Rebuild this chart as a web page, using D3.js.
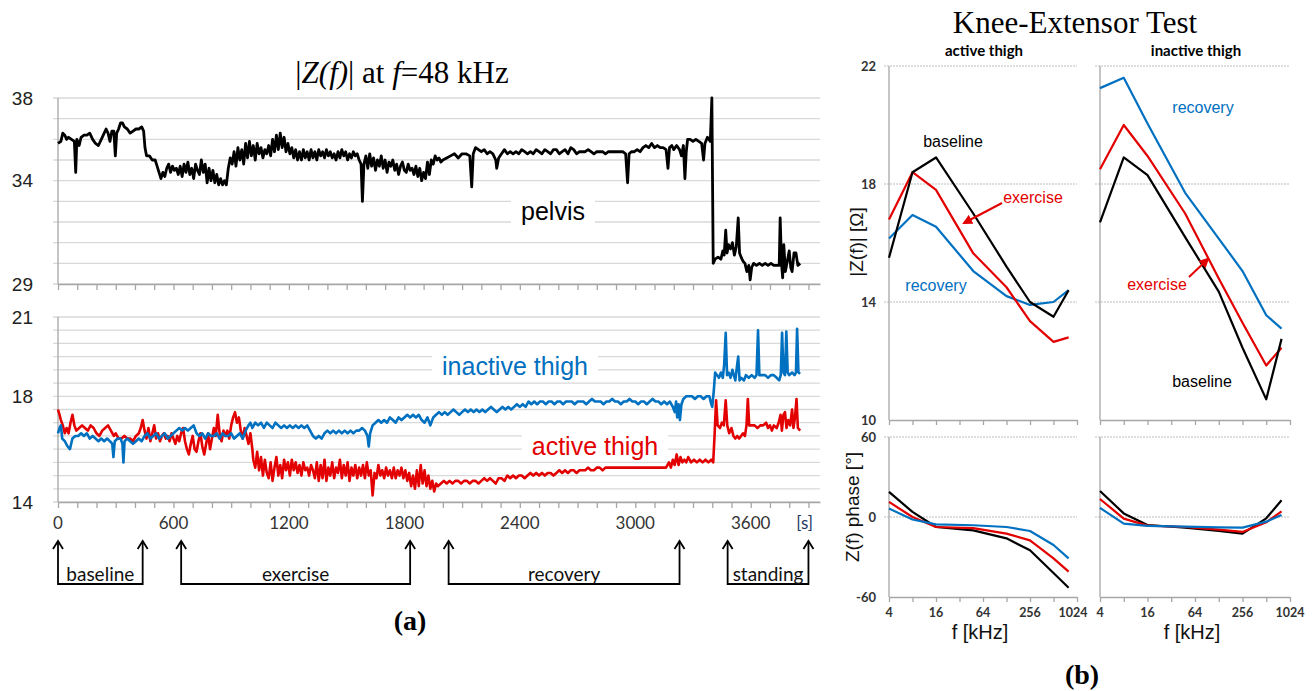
<!DOCTYPE html>
<html>
<head>
<meta charset="utf-8">
<script src="https://cdn.jsdelivr.net/npm/d3@7"></script>
<style>
  body { margin: 0; background: #fff; }
</style>
</head>
<body>
<svg id="fig" width="1316" height="691" font-family="'Liberation Sans', Arial, sans-serif"></svg>
<script>
////////////////////////////////////////////////////////////
//// Data //////////////////////////////////////////////////
////////////////////////////////////////////////////////////
// (a) |Z| at 48 kHz over time, [seconds, ohm]
const pelvis = [
  [0,35.8],[15,35.9],[25,36.3],[35,36.2],[45,36.0],[55,36.1],[70,36.0],[85,35.9],[92,34.4],[98,36.0],
  [110,35.7],[120,36.1],[135,36.2],[150,36.2],[165,36.3],[180,36.0],[195,35.8],[210,35.7],[225,36.0],[240,36.3],
  [250,36.5],[260,36.3],[270,35.9],[280,36.4],[290,36.4],[298,35.2],[305,36.3],[315,36.5],[325,36.8],[335,36.8],
  [345,36.6],[360,36.5],[375,36.3],[390,36.4],[405,36.5],[420,36.5],[435,36.6],[445,36.4],[452,35.6],[460,35.2],
  [475,35.2],[490,35.0],[505,35.0],[515,34.7],[525,34.4],[535,34.1],[545,34.4],[555,34.2],[565,34.6],[575,34.8],
  [585,34.4],[595,34.7],[605,34.5],[615,34.6],[625,34.3],[635,34.7],[645,34.2],[655,34.8],[665,34.4],[675,34.9],
  [685,34.3],[695,34.6],[705,34.1],[715,34.8],[725,34.5],[735,34.3],[745,35.0],[755,34.4],[765,34.8],[775,33.9],
  [785,34.6],[795,34.0],[805,34.5],[815,33.9],[825,34.3],[835,33.8],[845,34.1],[855,33.8],[865,34.0],[875,33.8],
  [885,34.6],[895,35.1],[905,34.8],[915,35.4],[925,34.7],[935,35.6],[945,35.0],[955,35.5],[965,34.8],[975,35.8],
  [985,35.1],[995,35.9],[1005,35.2],[1015,35.7],[1025,35.0],[1035,35.8],[1045,35.3],[1055,35.6],[1065,35.1],[1075,35.5],
  [1085,35.3],[1095,35.7],[1105,35.2],[1115,36.0],[1125,35.4],[1135,36.2],[1145,35.5],[1155,36.3],[1165,35.6],[1175,36.1],
  [1185,35.4],[1195,35.8],[1205,35.3],[1215,35.6],[1225,35.1],[1235,35.5],[1245,35.0],[1255,35.4],[1265,35.0],[1275,35.5],
  [1285,35.1],[1295,35.4],[1305,35.0],[1315,35.5],[1325,35.1],[1335,35.4],[1345,35.0],[1355,35.5],[1365,35.2],[1375,35.4],
  [1385,35.1],[1395,35.5],[1405,35.2],[1415,35.4],[1425,35.1],[1435,35.3],[1445,35.0],[1455,35.4],[1465,35.1],[1475,35.5],
  [1485,35.2],[1495,35.4],[1505,35.0],[1515,35.3],[1525,35.1],[1535,35.4],[1545,35.2],[1555,35.3],[1565,35.0],[1575,34.8],
  [1582,33.0],[1590,34.8],[1600,35.2],[1610,34.6],[1620,35.3],[1630,34.7],[1640,35.1],[1650,34.5],[1660,35.0],[1670,34.7],
  [1680,35.2],[1690,34.6],[1700,35.0],[1710,34.4],[1720,34.9],[1730,34.7],[1740,35.0],[1750,34.5],[1760,34.8],[1770,34.3],
  [1780,34.7],[1790,34.9],[1800,34.5],[1810,34.4],[1820,34.8],[1830,34.5],[1840,34.6],[1850,34.3],[1860,34.7],[1870,34.2],
  [1880,34.6],[1890,34.0],[1900,34.4],[1910,34.1],[1920,34.9],[1930,34.3],[1940,35.0],[1950,34.8],[1960,35.2],[1970,35.0],
  [1980,35.1],[1990,34.9],[2000,35.0],[2020,35.1],[2040,35.2],[2060,35.3],[2080,35.1],[2100,35.3],[2120,35.3],[2140,35.2],
  [2150,33.7],[2158,35.3],[2170,35.6],[2185,35.5],[2200,35.4],[2215,35.5],[2230,35.3],[2245,35.4],[2260,35.3],[2275,35.0],
  [2280,34.6],[2290,35.1],[2305,35.3],[2320,35.5],[2335,35.3],[2350,35.4],[2365,35.3],[2380,35.4],[2395,35.3],[2410,35.5],
  [2425,35.4],[2440,35.3],[2455,35.4],[2470,35.3],[2485,35.5],[2500,35.4],[2515,35.3],[2530,35.5],[2545,35.4],[2560,35.3],
  [2575,35.5],[2590,35.5],[2605,35.3],[2620,35.4],[2635,35.5],[2650,35.3],[2665,35.6],[2680,35.5],[2695,35.3],[2710,35.4],
  [2725,35.4],[2740,35.4],[2755,35.5],[2770,35.4],[2785,35.3],[2800,35.4],[2815,35.4],[2830,35.4],[2845,35.3],[2860,35.4],
  [2875,35.4],[2890,35.4],[2905,35.4],[2920,35.4],[2935,35.4],[2950,35.3],[2960,33.9],[2968,35.3],[2980,35.4],[2995,35.4],
  [3010,35.5],[3025,35.4],[3040,35.6],[3055,35.7],[3070,35.6],[3085,35.8],[3100,35.6],[3115,35.7],[3130,35.6],[3145,35.6],
  [3160,35.5],[3170,34.6],[3178,35.6],[3190,35.7],[3200,35.5],[3215,35.7],[3230,35.5],[3240,35.2],[3250,35.7],[3258,34.1],
  [3265,35.4],[3272,36.0],[3285,36.0],[3300,35.9],[3315,36.0],[3330,35.9],[3345,35.8],[3355,35.0],[3362,35.8],[3375,36.1],
  [3390,35.9],[3398,38.0],[3405,30.0],[3415,30.2],[3430,30.3],[3445,30.2],[3455,30.6],[3462,30.4],[3470,31.6],[3477,30.5],
  [3485,30.9],[3495,30.7],[3505,31.0],[3515,30.4],[3525,30.8],[3535,32.2],[3542,30.5],[3550,30.3],[3560,30.1],[3570,30.0],
  [3580,29.6],[3590,29.9],[3597,29.2],[3605,29.8],[3615,30.0],[3630,29.9],[3645,30.0],[3660,29.9],[3675,30.0],[3690,29.9],
  [3705,30.0],[3720,29.9],[3735,29.9],[3748,29.9],[3753,32.2],[3760,30.0],[3766,29.3],[3772,30.9],[3780,29.6],[3790,30.1],
  [3800,30.6],[3808,29.8],[3815,29.6],[3825,30.5],[3835,30.5],[3845,29.9],[3857,30.0]
];

const activeThigh = [
  [0,17.5],[8,17.3],[15,17.1],[25,16.9],[35,16.6],[45,16.8],[55,16.6],[65,17.0],[75,17.3],[85,16.9],
  [95,16.7],[110,16.8],[125,16.9],[140,16.8],[155,16.7],[170,16.9],[185,16.8],[200,16.6],[215,16.5],[230,16.7],
  [245,16.8],[260,16.9],[275,16.7],[290,16.5],[300,16.6],[315,16.4],[330,16.4],[345,16.5],[360,16.4],[375,16.4],
  [390,16.3],[405,16.5],[420,16.6],[430,16.8],[440,17.1],[450,16.7],[460,16.4],[470,16.8],[480,16.3],[490,16.6],
  [500,16.9],[510,16.4],[520,16.6],[530,16.3],[540,16.5],[550,16.6],[560,16.4],[570,16.5],[580,16.3],[590,16.6],
  [600,16.4],[610,16.2],[620,16.5],[630,16.3],[640,16.6],[650,16.8],[660,16.3],[670,16.0],[680,15.8],[690,16.2],
  [700,16.5],[710,16.0],[720,15.9],[730,16.3],[740,16.6],[750,16.1],[760,15.8],[770,16.2],[780,16.6],[790,16.0],
  [800,16.4],[810,16.8],[820,16.5],[830,17.3],[840,16.6],[850,16.3],[860,16.7],[870,16.5],[880,16.7],[890,16.4],
  [900,16.9],[910,17.2],[920,17.4],[930,17.0],[940,17.2],[950,16.7],[960,16.4],[970,16.8],[980,16.5],[990,16.2],
  [1000,16.6],[1010,16.0],[1015,15.6],[1025,15.3],[1035,15.9],[1045,15.2],[1055,15.7],[1065,15.0],[1075,15.6],[1085,15.1],
  [1095,14.9],[1105,15.5],[1115,14.8],[1125,15.3],[1135,15.7],[1145,15.0],[1155,15.4],[1165,14.9],[1175,15.6],[1185,15.2],
  [1195,15.5],[1205,15.0],[1215,15.6],[1225,15.2],[1235,15.5],[1245,15.1],[1255,15.4],[1265,15.0],[1275,15.5],[1285,15.2],
  [1295,15.3],[1305,15.0],[1315,15.4],[1325,15.2],[1335,14.9],[1345,15.5],[1355,14.8],[1365,15.4],[1375,14.9],[1385,15.6],
  [1395,14.8],[1405,15.3],[1415,15.0],[1425,15.5],[1435,14.9],[1445,15.3],[1455,15.1],[1465,15.6],[1475,14.9],[1485,15.4],
  [1495,15.0],[1505,15.5],[1515,14.8],[1525,15.3],[1535,15.0],[1545,15.4],[1555,14.9],[1565,15.3],[1575,15.0],[1585,15.4],
  [1595,14.9],[1605,15.5],[1615,15.0],[1625,15.2],[1635,14.25],[1645,15.1],[1655,14.9],[1665,15.4],[1675,15.0],[1685,15.2],
  [1695,14.9],[1705,15.3],[1715,15.0],[1725,15.2],[1735,14.9],[1745,15.3],[1755,14.9],[1765,15.2],[1775,15.0],[1785,15.3],
  [1795,14.9],[1805,15.2],[1815,14.8],[1825,15.1],[1835,14.6],[1845,15.0],[1855,14.5],[1865,15.2],[1875,14.6],[1885,15.4],
  [1895,14.7],[1905,15.2],[1915,14.6],[1925,15.0],[1935,14.5],[1945,14.8],[1955,14.4],[1965,14.7],[1975,14.6],[1990,14.7],
  [2005,14.8],[2020,14.7],[2035,14.8],[2050,14.7],[2065,14.8],[2080,14.8],[2095,14.7],[2110,14.8],[2125,14.8],[2140,14.7],
  [2155,14.8],[2170,14.8],[2185,14.7],[2200,14.8],[2215,14.9],[2230,14.8],[2245,14.9],[2260,14.8],[2275,14.7],[2290,14.9],
  [2305,14.9],[2320,14.8],[2335,15.0],[2350,14.9],[2365,15.0],[2380,14.9],[2395,15.0],[2410,15.0],[2425,14.9],[2440,15.0],
  [2455,15.1],[2470,15.0],[2485,15.1],[2500,15.0],[2515,15.1],[2530,15.0],[2545,15.1],[2560,15.1],[2575,15.0],[2590,15.1],
  [2605,15.2],[2620,15.1],[2635,15.2],[2650,15.1],[2665,15.2],[2680,15.2],[2695,15.1],[2710,15.2],[2725,15.2],[2740,15.2],
  [2755,15.3],[2770,15.2],[2785,15.2],[2800,15.3],[2815,15.3],[2830,15.2],[2845,15.3],[2860,15.3],[2875,15.3],[2890,15.3],
  [2905,15.3],[2920,15.3],[2935,15.3],[2950,15.3],[2965,15.3],[2980,15.3],[2995,15.3],[3010,15.3],[3025,15.3],[3040,15.3],
  [3055,15.3],[3070,15.3],[3085,15.3],[3100,15.3],[3115,15.3],[3130,15.3],[3145,15.3],[3160,15.3],[3175,15.5],[3185,15.3],
  [3195,15.6],[3205,15.4],[3215,15.8],[3225,15.4],[3235,15.7],[3245,15.5],[3255,15.6],[3265,15.5],[3275,15.7],[3290,15.5],
  [3305,15.6],[3320,15.5],[3335,15.6],[3350,15.5],[3365,15.6],[3380,15.5],[3395,15.6],[3405,15.5],[3412,16.5],[3420,17.85],
  [3428,16.9],[3440,16.8],[3450,17.0],[3460,16.9],[3470,17.85],[3478,16.9],[3488,16.6],[3500,16.8],[3510,16.5],[3520,16.4],
  [3530,16.5],[3540,16.4],[3550,16.5],[3560,16.6],[3570,16.5],[3578,16.9],[3585,17.9],[3592,16.9],[3605,16.9],[3620,16.9],
  [3635,16.8],[3650,16.9],[3665,16.9],[3680,17.0],[3690,16.8],[3700,16.9],[3710,16.7],[3720,16.9],[3735,16.8],[3745,17.0],
  [3755,17.3],[3762,16.7],[3770,17.3],[3778,17.4],[3786,16.8],[3795,17.1],[3805,16.9],[3815,17.5],[3822,16.8],[3830,17.2],
  [3838,17.9],[3845,16.8],[3857,16.7]
];

const inactiveThigh = [
  [0,16.6],[8,16.8],[15,16.9],[22,16.4],[35,16.3],[50,16.1],[62,16.0],[75,16.4],[90,16.5],[105,16.5],
  [120,16.6],[135,16.5],[150,16.6],[165,16.4],[180,16.5],[195,16.4],[210,16.3],[225,16.4],[240,16.3],[255,16.4],
  [270,16.3],[282,16.2],[288,15.7],[295,16.3],[310,16.4],[325,16.4],[335,16.2],[340,15.5],[346,16.3],[360,16.4],
  [375,16.3],[390,16.2],[405,16.3],[420,16.4],[435,16.3],[450,16.5],[465,16.6],[480,16.4],[495,16.5],[510,16.6],
  [525,16.4],[540,16.5],[555,16.6],[570,16.4],[585,16.5],[600,16.6],[615,16.7],[630,16.8],[645,16.7],[660,16.8],
  [675,16.7],[690,16.8],[705,16.9],[720,16.6],[735,16.5],[750,16.6],[765,16.4],[780,16.6],[795,16.5],[810,16.5],
  [825,16.6],[840,16.4],[855,16.6],[870,16.5],[885,16.5],[900,16.6],[915,16.4],[930,16.5],[945,16.6],[960,16.4],
  [975,16.7],[990,16.9],[1000,17.0],[1010,16.8],[1025,17.0],[1040,16.9],[1055,17.0],[1070,16.8],[1085,17.0],[1100,16.9],
  [1115,16.8],[1130,17.0],[1145,16.9],[1160,16.8],[1175,16.9],[1190,16.8],[1205,16.9],[1220,16.8],[1235,16.9],[1250,16.8],
  [1265,16.9],[1280,16.8],[1295,16.9],[1310,16.7],[1325,16.5],[1340,16.4],[1355,16.5],[1370,16.4],[1385,16.6],[1400,16.7],
  [1415,16.6],[1430,16.7],[1445,16.6],[1460,16.7],[1475,16.6],[1490,16.7],[1505,16.6],[1520,16.7],[1535,16.6],[1550,16.7],
  [1565,16.7],[1580,16.8],[1595,16.7],[1608,16.5],[1615,16.1],[1622,16.6],[1635,16.9],[1650,17.0],[1665,17.1],[1680,17.0],
  [1695,17.1],[1710,17.0],[1725,17.2],[1740,17.1],[1755,17.0],[1770,17.2],[1785,17.1],[1800,17.2],[1815,17.3],[1830,17.2],
  [1845,17.3],[1860,17.2],[1875,17.3],[1890,17.1],[1905,17.0],[1920,17.2],[1935,16.9],[1950,17.2],[1965,17.3],[1980,17.4],
  [1995,17.3],[2010,17.4],[2025,17.3],[2040,17.4],[2055,17.5],[2070,17.4],[2085,17.3],[2100,17.4],[2115,17.5],[2130,17.4],
  [2145,17.5],[2160,17.4],[2175,17.5],[2190,17.4],[2205,17.5],[2220,17.4],[2235,17.5],[2250,17.6],[2265,17.5],[2280,17.4],
  [2295,17.5],[2310,17.6],[2325,17.5],[2340,17.6],[2355,17.5],[2370,17.6],[2385,17.7],[2400,17.6],[2415,17.7],[2430,17.6],
  [2445,17.8],[2460,17.7],[2475,17.8],[2490,17.7],[2505,17.8],[2520,17.8],[2535,17.7],[2550,17.8],[2565,17.8],[2580,17.7],
  [2595,17.8],[2610,17.8],[2625,17.7],[2640,17.8],[2655,17.8],[2670,17.8],[2685,17.7],[2700,17.8],[2715,17.8],[2730,17.8],
  [2745,17.7],[2760,17.8],[2775,17.9],[2790,17.8],[2805,17.8],[2820,17.8],[2835,17.7],[2850,17.8],[2865,17.8],[2880,17.9],
  [2895,17.8],[2910,17.8],[2925,17.7],[2940,17.8],[2955,17.8],[2970,17.9],[2985,17.8],[3000,17.8],[3015,17.7],[3030,17.8],
  [3045,17.8],[3060,17.7],[3075,17.8],[3090,17.9],[3105,17.8],[3120,17.8],[3135,17.7],[3150,17.8],[3165,17.7],[3180,17.8],
  [3195,17.6],[3205,17.4],[3212,17.8],[3218,17.2],[3225,17.7],[3232,17.1],[3240,17.7],[3250,17.9],[3265,18.0],[3280,18.0],
  [3295,18.0],[3310,17.9],[3325,18.0],[3340,18.0],[3355,17.9],[3370,18.0],[3385,18.0],[3395,17.7],[3400,17.6],[3408,18.2],
  [3415,18.9],[3425,18.8],[3435,18.7],[3445,18.9],[3455,18.7],[3462,19.2],[3470,20.4],[3477,18.8],[3485,18.9],[3495,18.7],
  [3505,19.0],[3512,18.8],[3520,18.6],[3528,19.1],[3535,19.5],[3542,18.6],[3550,18.7],[3565,18.6],[3575,18.8],[3590,18.7],
  [3605,18.8],[3620,18.7],[3630,18.8],[3638,20.5],[3645,18.8],[3660,18.8],[3675,18.8],[3690,18.7],[3705,18.8],[3720,18.8],
  [3735,18.7],[3748,18.6],[3756,18.8],[3763,20.4],[3770,18.9],[3778,18.8],[3785,20.45],[3792,18.9],[3800,18.8],[3815,18.9],
  [3828,18.8],[3835,18.9],[3841,20.55],[3848,18.9],[3857,18.85]
];

const timeLabels = [0, 600, 1200, 1800, 2400, 3000, 3600];
const pelvisTicks = [38, 34, 29];
const thighTicks = [21, 18, 14];

const phaseNames = ["baseline", "exercise", "recovery", "standing"];
const phaseStart = [0, 640, 2030, 3480];
const phaseEnd = [440, 1830, 3230, 3900];

// (b) Knee-Extensor Test spectra
const freqs = [4, 8, 16, 48, 128, 256, 512, 800];
const freqLabels = [4, 16, 64, 256, 1024];
const freqTicks = [4, 8, 16, 32, 64, 128, 256, 512, 1024];

const activeZBaseline = [15.5, 18.4, 18.9, 17.0, 15.2, 14.0, 13.5, 14.4];
const activeZExercise = [16.8, 18.4, 17.8, 15.65, 14.5, 13.35, 12.65, 12.8];
const activeZRecovery = [16.15, 16.95, 16.55, 15.05, 14.2, 13.9, 14.0, 14.4];
const inactiveZBaseline = [16.7, 18.9, 18.3, 16.2, 14.35, 12.45, 10.7, 12.75];
const inactiveZExercise = [18.5, 20.0, 18.95, 17.0, 14.8, 13.3, 11.85, 12.45];
const inactiveZRecovery = [21.25, 21.6, 20.05, 17.7, 16.15, 15.05, 13.55, 13.1];

const activePhBaseline = [18.8, 3.8, -7.5, -10, -16, -25, -42, -53];
const activePhExercise = [11.3, 0, -7.5, -8.3, -12.5, -17.5, -31, -41];
const activePhRecovery = [6.3, -1.9, -5.5, -6.2, -7.5, -10.5, -21, -31];
const inactivePhBaseline = [19.5, 2.7, -6, -8, -10.5, -12.5, -1, 12.5];
const inactivePhExercise = [13.5, -1.2, -6.5, -7.5, -9.5, -11.2, -4, 4.2];
const inactivePhRecovery = [6.8, -5, -6.7, -7.2, -7.8, -8, -3.5, 1.5];

const zTicks = [22, 18, 14, 10];
const phTicks = [60, 0, -60];

////////////////////////////////////////////////////////////
//// Setup /////////////////////////////////////////////////
////////////////////////////////////////////////////////////
const BLACK = "#000000", RED = "#e30000", BLUE = "#0070c0";
const GRID = "#d9d9d9", AXIS = "#a6a6a6";
const SERIF = "'Liberation Serif', 'Times New Roman', serif";
const CAL = "Lato, 'Open Sans', sans-serif";

const svg = d3.select("#fig");
svg.append("rect").attr("width", 1316).attr("height", 691).attr("fill", "#fff");

const x = d3.scaleLinear().domain([0, 3960]).range([58, 820]);
const yPelvis = d3.scaleLinear().domain([29, 38]).range([284, 98]);
const yThigh = d3.scaleLinear().domain([14, 21]).range([502, 317]);

////////////////////////////////////////////////////////////
//// (a) time series ///////////////////////////////////////
////////////////////////////////////////////////////////////
function timeFrame(y, labels) {
  const g = svg.append("g");
  g.selectAll(".grid")
    .data(y.ticks(10))
    .join("line")
    .attr("x1", 53).attr("x2", x.range()[1])
    .attr("y1", d => y(d)).attr("y2", d => y(d))
    .attr("stroke", GRID).attr("stroke-width", 1.3);
  g.append("line")
    .attr("x1", x(0)).attr("x2", x(0))
    .attr("y1", y.range()[1]).attr("y2", y.range()[0])
    .attr("stroke", AXIS).attr("stroke-width", 1.3);
  g.append("g")
    .attr("transform", `translate(0,${y.range()[0]})`)
    .call(d3.axisBottom(x).tickValues(d3.range(0, 4000, 100)).tickSize(6).tickSizeOuter(0).tickFormat(""))
    .call(a => a.selectAll("line,path").attr("stroke", AXIS).attr("stroke-width", 1.3));
  g.selectAll(".ylab")
    .data(labels)
    .join("text")
    .attr("x", 33).attr("y", d => y(d)).attr("dy", "0.35em")
    .attr("text-anchor", "end")
    .attr("font-size", 19).attr("fill", "#222")
    .text(d => d);
  return g;
}

timeFrame(yPelvis, pelvisTicks);
timeFrame(yThigh, thighTicks);

function boxedLabel(txt, px, py, color) {
  const g = svg.append("g");
  const t = g.append("text")
    .attr("x", px).attr("y", py)
    .attr("text-anchor", "middle")
    .attr("font-size", 25).attr("fill", color)
    .text(txt);
  const b = t.node().getBBox();
  g.insert("rect", "text")
    .attr("x", b.x - 10).attr("y", b.y + 2)
    .attr("width", b.width + 20).attr("height", b.height - 4)
    .attr("fill", "#fff");
}

boxedLabel("pelvis", 553, 220, BLACK);
boxedLabel("inactive thigh", 515, 375, BLUE);
boxedLabel("active thigh", 595, 455, RED);

const linePelvis = d3.line().x(d => x(d[0])).y(d => yPelvis(d[1]));
const lineThigh = d3.line().x(d => x(d[0])).y(d => yThigh(d[1]));

svg.append("path").attr("d", linePelvis(pelvis))
  .attr("fill", "none").attr("stroke", BLACK).attr("stroke-width", 2.8).attr("stroke-linejoin", "round");
svg.append("path").attr("d", lineThigh(activeThigh))
  .attr("fill", "none").attr("stroke", RED).attr("stroke-width", 2.6).attr("stroke-linejoin", "round");
svg.append("path").attr("d", lineThigh(inactiveThigh))
  .attr("fill", "none").attr("stroke", BLUE).attr("stroke-width", 2.6).attr("stroke-linejoin", "round");

// time labels
svg.selectAll(".tlab")
  .data(timeLabels)
  .join("text")
  .attr("x", d => x(d)).attr("y", 529)
  .attr("text-anchor", "middle")
  .attr("font-family", CAL).attr("font-size", 17).attr("fill", "#333")
  .text(d => d);
svg.append("text")
  .attr("x", x(3880)).attr("y", 529)
  .attr("text-anchor", "middle")
  .attr("font-family", CAL).attr("font-size", 17).attr("fill", "#1f3864")
  .text("[s]");

// phase brackets
const arrowTop = 541, arrowBottom = 584;
const brackets = svg.append("g").attr("fill", "none").attr("stroke", BLACK).attr("stroke-width", 1.8);
phaseNames.forEach((name, i) => {
  const x0 = x(phaseStart[i]), x1 = x(phaseEnd[i]);
  brackets.append("polyline")
    .attr("points", [[x0, arrowTop], [x0, arrowBottom], [x1, arrowBottom], [x1, arrowTop]].join(" "));
  [x0, x1].forEach(xx => {
    brackets.append("polyline")
      .attr("points", [[xx - 5, arrowTop + 8], [xx, arrowTop], [xx + 5, arrowTop + 8]].join(" "));
  });
  svg.append("text")
    .attr("x", (x0 + x1) / 2).attr("y", 581)
    .attr("text-anchor", "middle")
    .attr("font-family", CAL).attr("font-size", 19).attr("fill", "#111")
    .text(name);
});

// title and caption
const title = svg.append("text")
  .attr("x", 402).attr("y", 83)
  .attr("text-anchor", "middle")
  .attr("font-family", SERIF).attr("font-size", 31);
title.append("tspan").text("|");
title.append("tspan").attr("font-style", "italic").text("Z(f)");
title.append("tspan").text("| at ");
title.append("tspan").attr("font-style", "italic").text("f");
title.append("tspan").text("=48 kHz");

svg.append("text")
  .attr("x", 410).attr("y", 630)
  .attr("text-anchor", "middle")
  .attr("font-family", SERIF).attr("font-size", 28).attr("font-weight", "bold")
  .text("(a)");

////////////////////////////////////////////////////////////
//// (b) spectra ///////////////////////////////////////////
////////////////////////////////////////////////////////////
const xActive = d3.scaleLog().base(2).domain([4, 1024]).range([889, 1077]);
const xInactive = d3.scaleLog().base(2).domain([4, 1024]).range([1100, 1290]);
const yZ = d3.scaleLinear().domain([10, 22]).range([420, 66]);
const yPh = d3.scaleLinear().domain([-60, 60]).range([597, 437]);

function specFrame(xs, y, grid, labels, showX) {
  const g = svg.append("g");
  g.selectAll(".grid")
    .data(grid)
    .join("line")
    .attr("x1", xs.range()[0] - 5).attr("x2", xs.range()[1])
    .attr("y1", d => y(d)).attr("y2", d => y(d))
    .attr("stroke", "#bdbdbd").attr("stroke-width", 1.2).attr("stroke-dasharray", "2,1");
  g.append("line")
    .attr("x1", xs.range()[0]).attr("x2", xs.range()[0])
    .attr("y1", y.range()[1]).attr("y2", y.range()[0])
    .attr("stroke", AXIS).attr("stroke-width", 1.3);
  g.append("g")
    .attr("transform", `translate(0,${y.range()[0]})`)
    .call(d3.axisBottom(xs).tickValues(freqTicks).tickSize(5).tickSizeOuter(0).tickFormat(""))
    .call(a => a.selectAll("line,path").attr("stroke", AXIS).attr("stroke-width", 1.3));
  if (labels) {
    g.selectAll(".ylab")
      .data(labels)
      .join("text")
      .attr("x", 876).attr("y", d => y(d)).attr("dy", "0.35em")
      .attr("text-anchor", "end")
      .attr("font-family", CAL).attr("font-weight", "bold").attr("font-size", 13).attr("fill", "#333")
      .text(d => d);
  }
  if (showX) {
    g.selectAll(".xlab")
      .data(freqLabels)
      .join("text")
      .attr("x", d => xs(d) - (d === 1024 && xs === xActive ? 4 : 0)).attr("y", 617)
      .attr("text-anchor", "middle")
      .attr("font-family", CAL).attr("font-weight", "bold").attr("font-size", 12.5).attr("fill", "#333")
      .text(d => d);
    g.append("text")
      .attr("x", (xs.range()[0] + xs.range()[1]) / 2 - 3).attr("y", 639)
      .attr("text-anchor", "middle")
      .attr("font-size", 20).attr("fill", "#111")
      .text("f [kHz]");
  }
}

specFrame(xActive, yZ, [22, 18, 14], zTicks, false);
specFrame(xInactive, yZ, [22, 18, 14], null, false);
specFrame(xActive, yPh, [60, 0], phTicks, true);
specFrame(xInactive, yPh, [60, 0], null, true);

function specLine(xs, y, values, color) {
  const line = d3.line().x((d, i) => xs(freqs[i])).y(d => y(d));
  svg.append("path").attr("d", line(values))
    .attr("fill", "none").attr("stroke", color).attr("stroke-width", 2.2).attr("stroke-linejoin", "round");
}

specLine(xActive, yZ, activeZRecovery, BLUE);
specLine(xActive, yZ, activeZExercise, RED);
specLine(xActive, yZ, activeZBaseline, BLACK);
specLine(xInactive, yZ, inactiveZRecovery, BLUE);
specLine(xInactive, yZ, inactiveZExercise, RED);
specLine(xInactive, yZ, inactiveZBaseline, BLACK);
specLine(xActive, yPh, activePhBaseline, BLACK);
specLine(xActive, yPh, activePhExercise, RED);
specLine(xActive, yPh, activePhRecovery, BLUE);
specLine(xInactive, yPh, inactivePhBaseline, BLACK);
specLine(xInactive, yPh, inactivePhExercise, RED);
specLine(xInactive, yPh, inactivePhRecovery, BLUE);

function specLabel(txt, px, py, color) {
  svg.append("text")
    .attr("x", px).attr("y", py)
    .attr("text-anchor", "middle")
    .attr("font-size", 16).attr("fill", color)
    .text(txt);
}
specLabel("baseline", 953, 147, BLACK);
specLabel("exercise", 1033, 203, RED);
specLabel("recovery", 936, 291, BLUE);
specLabel("recovery", 1203, 113, BLUE);
specLabel("exercise", 1157, 290, RED);
specLabel("baseline", 1202, 387, BLACK);

// pointer arrows to the exercise curves
svg.append("defs").append("marker")
  .attr("id", "head").attr("viewBox", [0, 0, 10, 10])
  .attr("refX", 8).attr("refY", 5)
  .attr("markerWidth", 5).attr("markerHeight", 5)
  .attr("orient", "auto")
  .append("path").attr("d", "M 0 0 L 10 5 L 0 10 z").attr("fill", RED);
[[1002, 203, 964, 223], [1189, 277, 1208, 259]].forEach(a => {
  svg.append("line")
    .attr("x1", a[0]).attr("y1", a[1]).attr("x2", a[2]).attr("y2", a[3])
    .attr("stroke", RED).attr("stroke-width", 2).attr("marker-end", "url(#head)");
});

// axis titles
svg.append("text")
  .attr("transform", "translate(863,242) rotate(-90)")
  .attr("text-anchor", "middle")
  .attr("font-size", 19).attr("fill", "#111")
  .text("|Z(f)| [Ω]");
svg.append("text")
  .attr("transform", "translate(859,507) rotate(-90)")
  .attr("text-anchor", "middle")
  .attr("font-size", 19).attr("fill", "#111")
  .text("Z(f) phase [°]");

svg.append("text")
  .attr("x", 984).attr("y", 56)
  .attr("text-anchor", "middle")
  .attr("font-family", CAL).attr("font-weight", "bold").attr("font-size", 15)
  .text("active thigh");
svg.append("text")
  .attr("x", 1196).attr("y", 56)
  .attr("text-anchor", "middle")
  .attr("font-family", CAL).attr("font-weight", "bold").attr("font-size", 15)
  .text("inactive thigh");

svg.append("text")
  .attr("x", 1075).attr("y", 33)
  .attr("text-anchor", "middle")
  .attr("font-family", SERIF).attr("font-size", 31)
  .text("Knee-Extensor Test");

svg.append("text")
  .attr("x", 1082).attr("y", 684)
  .attr("text-anchor", "middle")
  .attr("font-family", SERIF).attr("font-size", 28).attr("font-weight", "bold")
  .text("(b)");
</script>
</body>
</html>
